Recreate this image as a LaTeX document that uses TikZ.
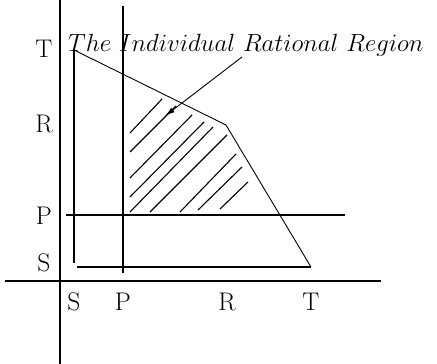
\documentclass[tikz,border=0pt]{standalone}
\usepackage{tikz}
\usetikzlibrary{arrows.meta, positioning, calc}
\tikzset{
    axis/.style={line width=1.6pt},
    payoff/.style={line width=1.3pt},
    threat/.style={line width=2.1pt},
    frontier/.style={line width=0.9pt},
    hatch/.style={line width=1.1pt},
    lab/.style={font=\fontsize{25.5}{30}\selectfont, inner sep=0pt},
    arr/.style={line width=0.9pt, -{Latex[length=10pt, width=5.5pt]}},
}

\begin{document}
\begin{tikzpicture}[x=1pt, y=1pt]
    \useasboundingbox (-60,-83) rectangle (377,281);

    % Axes
    \draw[axis] (0,281) -- (0,-83);
    \draw[axis] (-55,0) -- (321,0);

    % Payoff levels
    \draw[payoff] (14,231) -- (14,18);
    \draw[payoff] (17,14) -- (251,14);
    \draw[payoff] (63,275) -- (63,8);
    \draw[threat] (6,66) -- (285,66);

    % Feasible frontier
    \coordinate (ST) at (14,231);
    \coordinate (RR) at (166,156);
    \coordinate (TS) at (251,14);
    \draw[frontier] (ST) -- (RR) -- (TS);

    % Hatching of the region
    \foreach \xa/\ya/\xb/\yb in {70/148/102/182, 70/129/116/175, 70/103/132/166,
                                 70/84/144/159, 70/69/153/154, 90/69/167/146,
                                 120/69/176/127, 138/71/182/114, 160/72/188/99}
        \draw[hatch] (\xa,\ya) -- (\xb,\yb);

    % Left labels
    \node[lab] (yT) at (-16,232) {T};
    \node[lab] (yR) at (-16,157) {R};
    \node[lab] (yP) at (-16,65) {P};
    \node[lab] (yS) at (-16,18) {S};

    % Bottom labels
    \node[lab] (xS) at (14,-21) {S};
    \node[lab] (xP) at (63,-21) {P};
    \node[lab] (xR) at (167,-21) {R};
    \node[lab] (xT) at (251,-21) {T};

    % Title and pointer
    \node[lab, font=\fontsize{26}{30}\selectfont, anchor=base west] (title) at (8,229)
        {$The\ Individual\ Rational\ Region$};
    \coordinate (tail) at (182,224);
    \coordinate (region) at (105,165);
    \draw[arr] (tail) -- (region);
\end{tikzpicture}
\end{document}
